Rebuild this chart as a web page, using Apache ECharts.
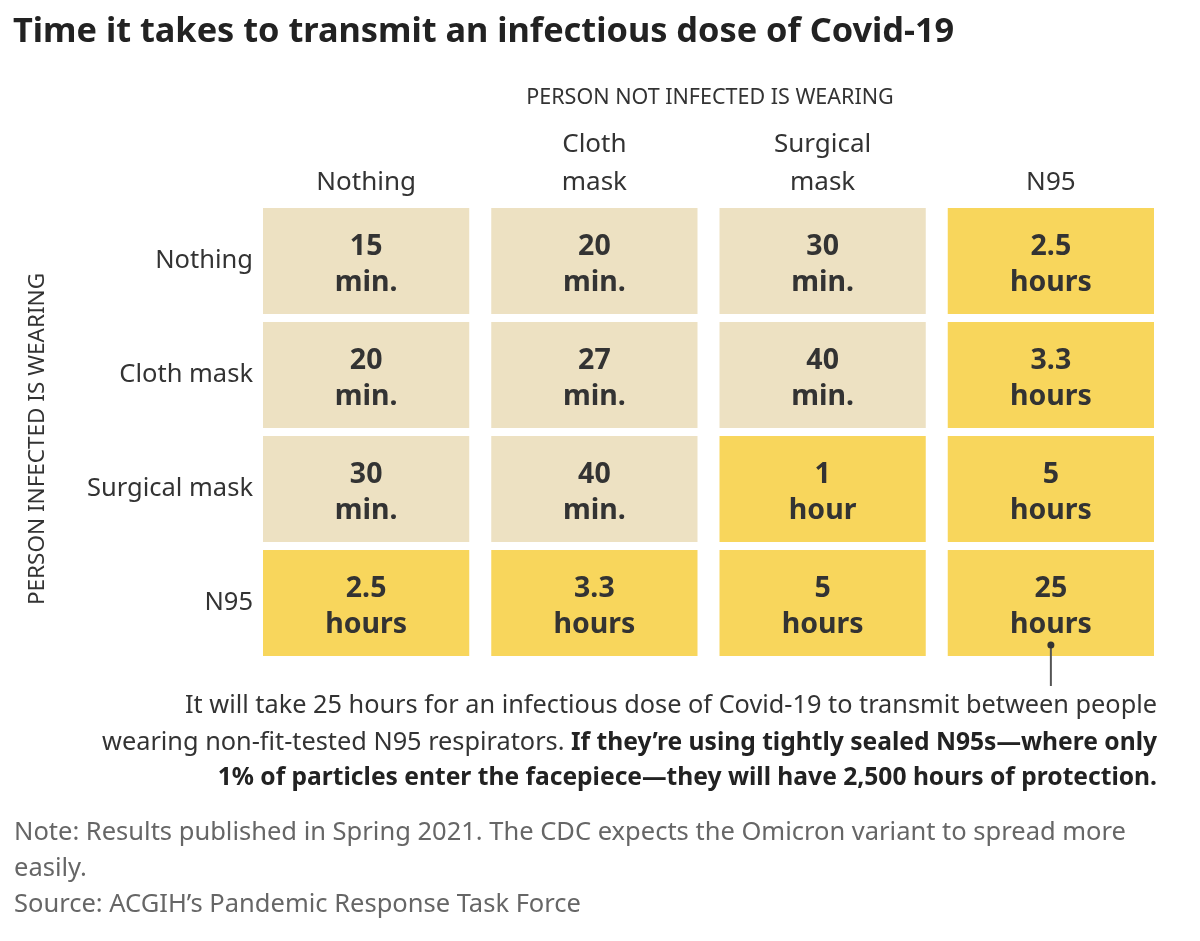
<!DOCTYPE html>
<html>
<head>
<meta charset="utf-8">
<script src="https://cdn.jsdelivr.net/npm/echarts@6/dist/echarts.min.js"></script>
<style>
  html, body { margin: 0; padding: 0; background: #fff; }
  #chart { width: 1200px; height: 941px; }
</style>
</head>
<body>
<div id="chart"></div>
<script>
// 未感染者佩戴（列）
var notInfectedCats = ['Nothing', 'Cloth\nmask', 'Surgical\nmask', 'N95'];
// 感染者佩戴（行）
var infectedCats = ['Nothing', 'Cloth mask', 'Surgical mask', 'N95'];
// 传播所需时间，单位：分钟（每行一个感染者口罩类型）
var rowNothing = [15, 20, 30, 150];
var rowCloth = [20, 27, 40, 198];
var rowSurgical = [30, 40, 60, 300];
var rowN95 = [150, 198, 300, 1500];
var minutesRows = [rowNothing, rowCloth, rowSurgical, rowN95];

var condensed = '"Liberation Sans Narrow", "Noto Sans", sans-serif';
var bodyFont = '"Noto Sans", "Open Sans", sans-serif';

function fmtTime(m) {
    if (m < 60) return m + '\nmin.';
    var h = Math.round(m / 60 * 10) / 10;
    return h + (h === 1 ? '\nhour' : '\nhours');
}

var cells = [];
for (var r = 0; r < minutesRows.length; r++) {
    for (var c = 0; c < minutesRows[r].length; c++) {
        cells.push([c, r, minutesRows[r][c]]);
    }
}

var myChart = echarts.init(document.getElementById('chart'));
var option = {
    backgroundColor: '#ffffff',
    animation: false,
    title: {
        text: 'Time it takes to transmit an infectious dose of Covid-19',
        left: 8,
        top: 10,
        textStyle: {
            fontFamily: bodyFont,
            fontWeight: 'bold',
            fontSize: 34.3,
            color: '#222222'
        }
    },
    grid: { left: 252, right: 35, top: 204, bottom: 281 },
    xAxis: {
        type: 'category',
        position: 'top',
        data: notInfectedCats,
        axisLine: { show: false },
        axisTick: { show: false },
        splitLine: { show: false },
        axisLabel: {
            margin: 2,
            fontFamily: condensed,
            fontSize: 26,
            lineHeight: 38,
            color: '#333333',
            verticalAlign: 'bottom'
        }
    },
    yAxis: {
        type: 'category',
        inverse: true,
        data: infectedCats,
        axisLine: { show: false },
        axisTick: { show: false },
        splitLine: { show: false },
        axisLabel: {
            margin: -1,
            fontFamily: condensed,
            fontSize: 25.5,
            color: '#333333',
            padding: [0, 0, 6, 0]
        }
    },
    visualMap: {
        show: false,
        type: 'piecewise',
        dimension: 2,
        pieces: [
            { lt: 60, color: '#EDE1C2' },
            { gte: 60, color: '#F8D65C' }
        ]
    },
    series: [{
        type: 'custom',
        data: cells,
        encode: { x: 0, y: 1 },
        renderItem: function (params, api) {
            var center = api.coord([api.value(0), api.value(1)]);
            var size = api.size([1, 1]);
            var w = size[0] - 22;
            var h = size[1] - 8;
            return {
                type: 'rect',
                shape: { x: center[0] - w / 2, y: center[1] - h / 2, width: w, height: h },
                style: { fill: api.visual('color') },
                textContent: {
                    style: {
                        text: fmtTime(api.value(2)),
                        fontFamily: bodyFont,
                        fontWeight: 'bold',
                        fontSize: 28.5,
                        lineHeight: 36,
                        fill: '#333333',
                        align: 'center'
                    }
                },
                textConfig: { position: 'inside', offset: [0, 4] }
            };
        }
    }],
    graphic: [
        {
            id: 'topHead',
            type: 'text',
            x: 710,
            y: 98,
            style: {
                text: 'PERSON NOT INFECTED IS WEARING',
                fontFamily: condensed,
                fontSize: 21.5,
                fill: '#333333',
                align: 'center',
                verticalAlign: 'middle'
            }
        },
        {
            id: 'sideHead',
            type: 'text',
            x: 38,
            y: 439,
            rotation: Math.PI / 2,
            style: {
                text: 'PERSON INFECTED IS WEARING',
                fontFamily: condensed,
                fontSize: 22.5,
                fill: '#333333',
                align: 'center',
                verticalAlign: 'middle'
            }
        },
        {
            id: 'ann1',
            type: 'text',
            x: 1157,
            y: 706,
            style: {
                text: 'It will take 25 hours for an infectious dose of Covid-19 to transmit between people',
                fontFamily: bodyFont,
                fontSize: 25.3,
                fill: '#333333',
                align: 'right',
                verticalAlign: 'middle'
            }
        },
        {
            id: 'ann2',
            type: 'text',
            x: 1157,
            y: 743,
            style: {
                text: '{r|wearing non-fit-tested N95 respirators. }{b|If they\u2019re using tightly sealed N95s\u2014where only}',
                align: 'right',
                verticalAlign: 'middle',
                rich: {
                    r: { fontFamily: bodyFont, fontSize: 25.3, fill: '#333333' },
                    b: { fontFamily: bodyFont, fontSize: 24.6, fontWeight: 'bold', fill: '#222222' }
                }
            }
        },
        {
            id: 'ann3',
            type: 'text',
            x: 1157,
            y: 778,
            style: {
                text: '1% of particles enter the facepiece\u2014they will have 2,500 hours of protection.',
                fontFamily: bodyFont,
                fontSize: 24.6,
                fontWeight: 'bold',
                fill: '#222222',
                align: 'right',
                verticalAlign: 'middle'
            }
        },
        {
            id: 'notes',
            type: 'text',
            x: 14,
            y: 815,
            style: {
                text: 'Note: Results published in Spring 2021. The CDC expects the Omicron variant to spread more\neasily.\nSource: ACGIH\u2019s Pandemic Response Task Force',
                fontFamily: bodyFont,
                fontSize: 25.5,
                lineHeight: 36,
                fill: '#666666'
            }
        }
    ]
};
myChart.setOption(option);

// 标注线：从 N95×N95 格子向下引出
var last = myChart.convertToPixel({ xAxisIndex: 0, yAxisIndex: 0 }, [3, 3]);
var prev = myChart.convertToPixel({ xAxisIndex: 0, yAxisIndex: 0 }, [3, 2]);
var step = last[1] - prev[1];
var dotY = last[1] + 42;
myChart.setOption({
    graphic: [
        {
            id: 'calloutLine',
            type: 'line',
            shape: { x1: last[0], y1: dotY, x2: last[0], y2: last[1] + step / 2 + 26 },
            style: { stroke: '#555555', lineWidth: 2 },
            z: 20
        },
        {
            id: 'calloutDot',
            type: 'circle',
            shape: { cx: last[0], cy: dotY, r: 3.5 },
            style: { fill: '#333333' },
            z: 21
        }
    ]
});
</script>
</body>
</html>
